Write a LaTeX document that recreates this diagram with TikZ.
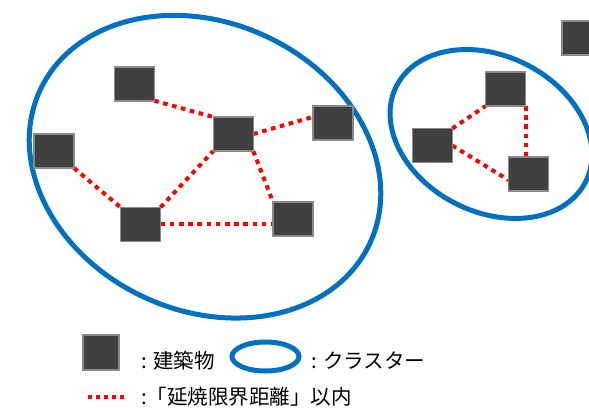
\documentclass[tikz,border=0pt]{standalone}
\usepackage{fontspec}
\newfontfamily\jp{Noto Sans CJK JP}
\usetikzlibrary{backgrounds,calc}
\definecolor{clblue}{HTML}{0070C0}
\definecolor{bldfill}{HTML}{404040}
\definecolor{bldedge}{HTML}{8A8A8A}
\begin{document}
\begin{tikzpicture}[x=1pt,y=-1pt,
  bld/.style={draw=bldedge,fill=bldfill,line width=1.6pt,minimum width=40pt,minimum height=34pt,inner sep=0pt,outer sep=0pt},
  clus/.style={draw=clblue,line width=5pt},
  near/.style={draw=red,line width=4pt,dash pattern=on 4.6pt off 4.6pt},
  lbl/.style={font=\jp\fontsize{20.5}{24}\selectfont,anchor=west,inner sep=0pt}]
\useasboundingbox (0,0) rectangle (589,407);
% buildings
\node[bld] (b1) at (134.3,83.7) {};
\node[bld] (b2) at (54,151) {};
\node[bld] (b3) at (233.3,134) {};
\node[bld] (b4) at (333,123) {};
\node[bld] (b5) at (140.5,224.3) {};
\node[bld] (b6) at (293,219) {};
\node[bld] (r1) at (505.5,89) {};
\node[bld] (r2) at (432.3,145.5) {};
\node[bld] (r3) at (528.5,174) {};
\node[bld] (r4) at (582,38) {};
\begin{scope}[on background layer]
  \draw[clus,rotate around={-24.8:(205,166.7)}] (205,166.7) ellipse [x radius=181.8,y radius=144];
  \draw[clus,rotate around={-26.8:(491,134)}] (491,134) ellipse [x radius=106,y radius=78];
  \draw[near] (b1.south east) -- (b3.north west);
  \draw[near] (b2.south east) -- (b5.north west);
  \draw[near] (b5.north east) -- (b3.south west);
  \draw[near] (b5.east) -- (b5.east -| b6.west);
  \draw[near] (b3.east) -- (b4.163);
  \draw[near] (b3.south east) -- (b6.north west);
  \draw[near] (r2.north east) -- (r1.south west);
  \draw[near] (r2.east) -- (r3.197);
  \draw[near] (r1.south east) -- (r1.south east |- r3.north);
\end{scope}
% legend
\node[bld,minimum width=36pt,minimum height=35pt] (lb) at (101,352.5) {};
\node[lbl] (t1) at (141,361) {: 建築物};
\draw[clus] (265.5,356.5) ellipse [x radius=33.5,y radius=14.5];
\node[lbl] (t2) at (311,361) {: クラスター};
\coordinate (la) at (88,397);
\coordinate (lz) at (124,397);
\draw[near,dash pattern=on 4pt off 4pt] (la) -- (lz);
\node[lbl] (t3) at (141,397) {:「延焼限界距離」以内};
\end{tikzpicture}
\end{document}
